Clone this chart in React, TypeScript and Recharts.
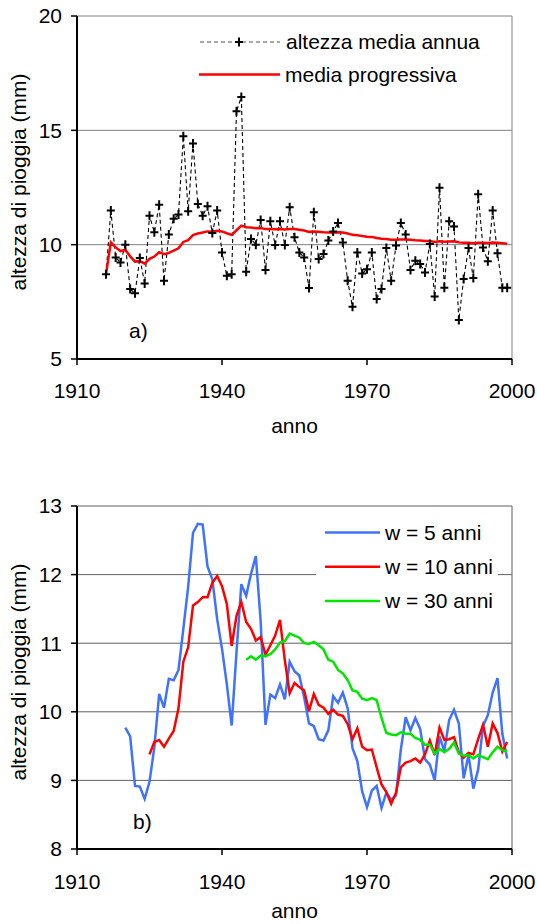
import React from 'react';
import { LineChart, Line, XAxis, YAxis, CartesianGrid, ReferenceLine, Legend } from 'recharts';

const FONT = '"Liberation Sans", Arial, Helvetica, sans-serif';

const YEARS = [
  1916, 1917, 1918, 1919, 1920, 1921, 1922, 1923, 1924, 1925,
  1926, 1927, 1928, 1929, 1930, 1931, 1932, 1933, 1934, 1935,
  1936, 1937, 1938, 1939, 1940, 1941, 1942, 1943, 1944, 1945,
  1946, 1947, 1948, 1949, 1950, 1951, 1952, 1953, 1954, 1955,
  1956, 1957, 1958, 1959, 1960, 1961, 1962, 1963, 1964, 1965,
  1966, 1967, 1968, 1969, 1970, 1971, 1972, 1973, 1974, 1975,
  1976, 1977, 1978, 1979, 1980, 1981, 1982, 1983, 1984, 1985,
  1986, 1987, 1988, 1989, 1990, 1991, 1992, 1993, 1994, 1995,
  1996, 1997, 1998, 1999,
];

const ANNUA = [
  8.71, 11.49, 9.44, 9.22, 10.0, 8.06, 7.87, 9.42, 8.3, 11.27,
  10.54, 11.75, 8.42, 10.44, 11.13, 11.32, 14.74, 11.46, 14.42, 11.78,
  11.27, 11.68, 10.51, 11.49, 9.66, 8.64, 8.71, 15.83, 16.46, 8.82,
  10.25, 10.0, 11.08, 8.89, 11.02, 9.99, 11.02, 9.99, 11.64, 10.32,
  9.66, 9.44, 8.1, 11.42, 9.37, 9.59, 10.18, 10.58, 10.95, 10.1,
  8.42, 7.28, 9.66, 8.74, 8.93, 9.66, 7.62, 8.06, 9.85, 8.42,
  9.96, 10.95, 10.44, 8.89, 9.3, 9.15, 8.78, 10.03, 7.73, 12.49,
  8.12, 11.02, 10.79, 6.71, 8.5, 9.85, 8.54, 12.2, 9.88, 9.27,
  11.49, 9.62, 8.12, 8.12,
];

const PROGRESSIVA = [
  8.71, 10.1, 9.88, 9.72, 9.77, 9.49, 9.26, 9.28, 9.17, 9.38,
  9.48, 9.67, 9.58, 9.64, 9.74, 9.84, 10.12, 10.2, 10.42, 10.49,
  10.53, 10.58, 10.57, 10.61, 10.58, 10.5, 10.43, 10.63, 10.83, 10.76,
  10.75, 10.72, 10.73, 10.68, 10.69, 10.67, 10.68, 10.66, 10.69, 10.68,
  10.65, 10.62, 10.56, 10.58, 10.56, 10.54, 10.53, 10.53, 10.54, 10.53,
  10.49, 10.43, 10.41, 10.38, 10.35, 10.34, 10.29, 10.26, 10.25, 10.22,
  10.21, 10.23, 10.23, 10.21, 10.19, 10.18, 10.16, 10.16, 10.12, 10.15,
  10.13, 10.14, 10.15, 10.1, 10.08, 10.08, 10.06, 10.08, 10.08, 10.07,
  10.09, 10.08, 10.06, 10.04,
];

const W5_START = 1920;
const W5 = [
  9.77, 9.64, 8.92, 8.91, 8.73, 8.98, 9.48, 10.26, 10.06, 10.48,
  10.46, 10.61, 11.21, 11.82, 12.61, 12.74, 12.73, 12.12, 11.93, 11.35,
  10.92, 10.4, 9.8, 10.87, 11.86, 11.69, 12.01, 12.27, 11.32, 9.81,
  10.25, 10.2, 10.4, 10.18, 10.73, 10.59, 10.53, 10.21, 9.83, 9.79,
  9.6, 9.58, 9.73, 10.23, 10.13, 10.28, 10.05, 9.47, 9.28, 8.84,
  8.61, 8.85, 8.92, 8.6, 8.82, 8.72, 8.78, 9.45, 9.92, 9.73,
  9.91, 9.75, 9.31, 9.23, 9.0, 9.64, 9.43, 9.88, 10.03, 9.83,
  9.03, 9.37, 8.88, 9.16, 9.79, 9.95, 10.28, 10.49, 9.68, 9.32,
];

const W10_START = 1925;
const W10 = [
  9.38, 9.56, 9.59, 9.49, 9.61, 9.72, 10.05, 10.73, 10.94, 11.55,
  11.6, 11.67, 11.67, 11.88, 11.98, 11.83, 11.57, 10.96, 11.4, 11.6,
  11.31, 11.21, 11.04, 11.09, 10.83, 10.97, 11.11, 11.34, 10.75, 10.27,
  10.42, 10.36, 10.31, 10.01, 10.26, 10.1, 10.06, 9.97, 10.03, 9.96,
  9.94, 9.82, 9.6, 9.76, 9.49, 9.44, 9.45, 9.19, 8.94, 8.83,
  8.66, 8.82, 9.19, 9.26, 9.28, 9.32, 9.26, 9.38, 9.58, 9.37,
  9.77, 9.59, 9.6, 9.63, 9.41, 9.33, 9.4, 9.38, 9.6, 9.81,
  9.49, 9.83, 9.69, 9.42, 9.56,
];

const W30_START = 1945;
const W30 = [
  10.76, 10.81, 10.76, 10.82, 10.81, 10.84, 10.91, 11.01, 11.03, 11.14,
  11.11, 11.08, 11.0, 10.99, 11.02, 10.97, 10.91, 10.76, 10.73, 10.61,
  10.56, 10.46, 10.31, 10.29, 10.19, 10.17, 10.2, 10.17, 9.91, 9.69,
  9.67, 9.66, 9.7, 9.68, 9.68, 9.62, 9.59, 9.52, 9.52, 9.39,
  9.46, 9.41, 9.46, 9.55, 9.39, 9.36, 9.37, 9.32, 9.37, 9.34,
  9.31, 9.41, 9.49, 9.44, 9.42,
];

const X_TICKS = [1910, 1940, 1970, 2000];
const TOP_Y_TICKS = [5, 10, 15, 20];
const BOTTOM_Y_TICKS = [8, 9, 10, 11, 12, 13];

const TOP_SERIES = { annua: 'altezza media annua', progressiva: 'media progressiva' };
const BOTTOM_SERIES = [
  { key: 'w5', name: 'w = 5 anni', color: '#3F72FF' },
  { key: 'w10', name: 'w = 10 anni', color: '#FF0000' },
  { key: 'w30', name: 'w = 30 anni', color: '#00E600' },
];

const topData = YEARS.map((year, i) => ({ year, annua: ANNUA[i], progressiva: PROGRESSIVA[i] }));

const pick = (arr: number[], start: number, year: number) => {
  const k = year - start;
  return k >= 0 && k < arr.length ? arr[k] : null;
};

const bottomData = YEARS.map((year) => ({
  year,
  w5: pick(W5, W5_START, year),
  w10: pick(W10, W10_START, year),
  w30: pick(W30, W30_START, year),
}));

const FS = 21;
const tickStyle = { fill: '#000', fontSize: FS, fontFamily: FONT };

const CrossDot = (props: any) => {
  const { cx, cy, index } = props;
  if (cx == null || cy == null) return <g key={`c${index}`} />;
  return (
    <path
      key={`c${index}`}
      d={`M${cx - 4},${cy}H${cx + 4}M${cx},${cy - 4.5}V${cy + 4.5}`}
      stroke="#000"
      strokeWidth={2}
      fill="none"
    />
  );
};

const TopLegend = () => (
  <svg width={300} height={70} style={{ display: 'block' }}>
    <line x1={10} y1={17} x2={90} y2={17} stroke="#555" strokeWidth={1.2} strokeDasharray="4 3" />
    <path d="M45,17H53M49,12.5V21.5" stroke="#000" strokeWidth={2} />
    <text x={96} y={24} fontSize={FS} fontFamily={FONT} fill="#000">{TOP_SERIES.annua}</text>
    <line x1={9} y1={49.5} x2={90} y2={49.5} stroke="#FF0000" strokeWidth={2.5} />
    <text x={95} y={56.5} fontSize={FS} fontFamily={FONT} fill="#000">{TOP_SERIES.progressiva}</text>
  </svg>
);

const BottomLegend = () => (
  <svg width={182} height={108} style={{ display: 'block' }}>
    {BOTTOM_SERIES.map((s, i) => {
      const y = 20.5 + i * 34.2;
      return (
        <g key={s.key}>
          <line x1={9} y1={y} x2={64} y2={y} stroke={s.color} strokeWidth={2.5} />
          <text x={69} y={y + 7.5} fontSize={FS} fontFamily={FONT} fill="#000">{s.name}</text>
        </g>
      );
    })}
  </svg>
);

const yLabel = (cy: number) => () => (
  <text x={26} y={cy} transform={`rotate(-90 26 ${cy})`} textAnchor="middle" fontSize={FS} fontFamily={FONT} fill="#000">
    altezza di pioggia (mm)
  </text>
);

const xLabel = (by: number) => () => (
  <text x={294.5} y={by} textAnchor="middle" fontSize={FS} fontFamily={FONT} fill="#000">
    anno
  </text>
);

export default function App() {
  return (
    <div style={{ position: 'absolute', left: 0, top: 0, width: 537, height: 924, background: '#fff', fontFamily: FONT }}>
      <div style={{ position: 'absolute', left: 0, top: 0 }}>
        <LineChart width={537} height={440} data={topData} margin={{ top: 16, right: 25, bottom: 0, left: 0 }}>
          <CartesianGrid horizontal vertical={false} stroke="#808080" strokeWidth={1} />
          <ReferenceLine x={2000} stroke="#808080" strokeWidth={1} />
          <XAxis
            dataKey="year"
            type="number"
            domain={[1910, 2000]}
            ticks={X_TICKS}
            height={81}
            tick={tickStyle}
            tickSize={6}
            tickMargin={18}
            axisLine={{ stroke: '#000', strokeWidth: 2 }}
            tickLine={{ stroke: '#000', strokeWidth: 1.5 }}
            label={xLabel(433)}
          />
          <YAxis
            type="number"
            domain={[5, 20]}
            ticks={TOP_Y_TICKS}
            width={77}
            tick={tickStyle}
            tickSize={6}
            tickMargin={9}
            axisLine={{ stroke: '#000', strokeWidth: 2 }}
            tickLine={{ stroke: '#000', strokeWidth: 1.5 }}
            label={yLabel(182)}
          />
          <Line
            dataKey="annua"
            name={TOP_SERIES.annua}
            stroke="#000"
            strokeWidth={1.1}
            strokeDasharray="4 3"
            dot={CrossDot}
            activeDot={false}
            isAnimationActive={false}
          />
          <Line
            dataKey="progressiva"
            name={TOP_SERIES.progressiva}
            stroke="#FF0000"
            strokeWidth={2.5}
            dot={false}
            activeDot={false}
            isAnimationActive={false}
          />
          <Legend
            layout="vertical"
            align="center"
            verticalAlign="middle"
            content={TopLegend}
            wrapperStyle={{ left: 190, top: 25, width: 300, height: 70 }}
          />
        </LineChart>
      </div>
      <div style={{ position: 'absolute', left: 0, top: 490 }}>
        <LineChart width={537} height={434} data={bottomData} margin={{ top: 16, right: 25, bottom: 0, left: 0 }}>
          <CartesianGrid horizontal vertical={false} stroke="#606060" strokeWidth={1} />
          <ReferenceLine x={2000} stroke="#606060" strokeWidth={1} />
          <XAxis
            dataKey="year"
            type="number"
            domain={[1910, 2000]}
            ticks={X_TICKS}
            height={75}
            tick={tickStyle}
            tickSize={6}
            tickMargin={19}
            axisLine={{ stroke: '#000', strokeWidth: 2 }}
            tickLine={{ stroke: '#000', strokeWidth: 1.5 }}
            label={xLabel(428)}
          />
          <YAxis
            type="number"
            domain={[8, 13]}
            ticks={BOTTOM_Y_TICKS}
            width={77}
            tick={tickStyle}
            tickSize={6}
            tickMargin={9}
            axisLine={{ stroke: '#000', strokeWidth: 2 }}
            tickLine={{ stroke: '#000', strokeWidth: 1.5 }}
            label={yLabel(182)}
          />
          {BOTTOM_SERIES.map((s) => (
            <Line
              key={s.key}
              dataKey={s.key}
              name={s.name}
              stroke={s.color}
              strokeWidth={2.5}
              dot={false}
              activeDot={false}
              connectNulls={false}
              isAnimationActive={false}
            />
          ))}
          <Legend
            layout="vertical"
            align="center"
            verticalAlign="middle"
            content={BottomLegend}
            wrapperStyle={{ left: 316, top: 22, width: 182, height: 108, background: '#fff' }}
          />
        </LineChart>
      </div>
      <svg width={537} height={924} style={{ position: 'absolute', left: 0, top: 0, pointerEvents: 'none' }}>
        <text x={129} y={338} fontSize={FS} fontFamily={FONT} fill="#000">a)</text>
        <text x={133} y={829} fontSize={FS} fontFamily={FONT} fill="#000">b)</text>
      </svg>
    </div>
  );
}
